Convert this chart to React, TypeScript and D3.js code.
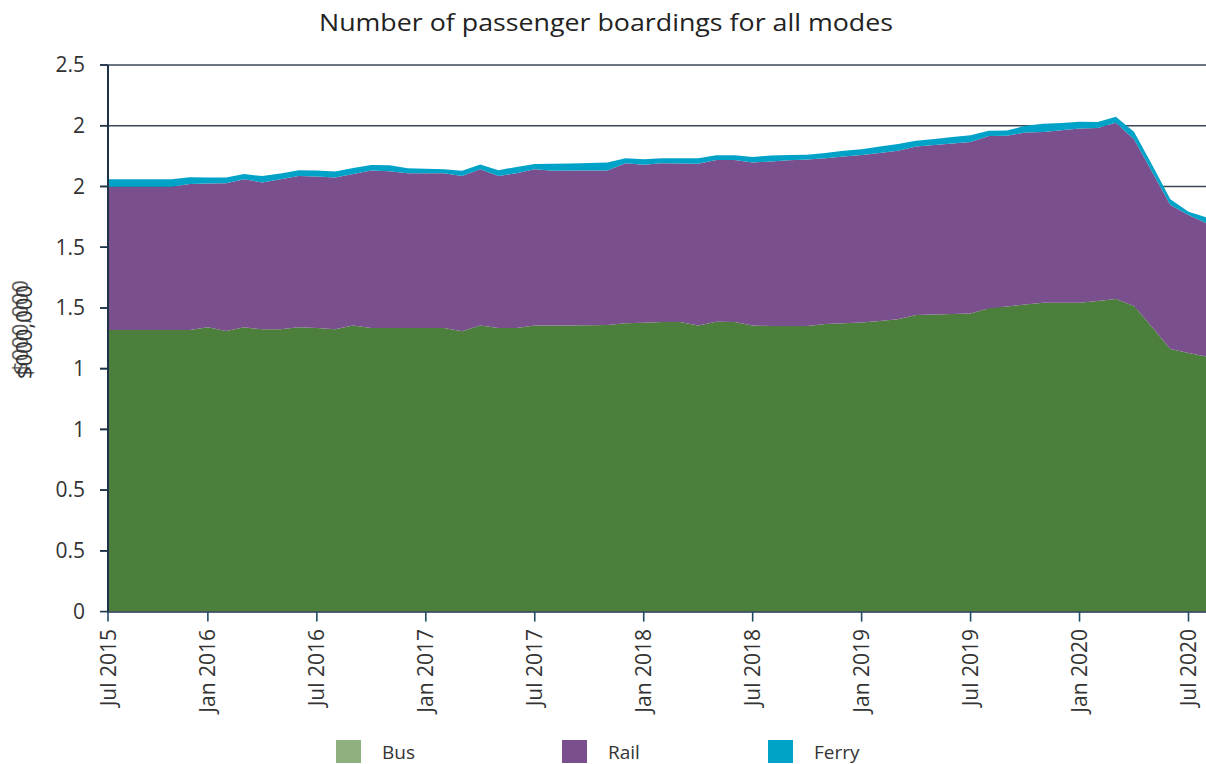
import React from "react";
import * as d3 from "d3";

// Monthly boardings (millions), Jul 2015 .. Aug 2020
const busValues = [
  1.288, 1.288, 1.288, 1.288, 1.288, 1.288, 1.300, 1.283, 1.300, 1.291,
  1.291, 1.300, 1.297, 1.291, 1.308, 1.297, 1.297, 1.297, 1.297, 1.297,
  1.282, 1.309, 1.297, 1.297, 1.308, 1.308, 1.309, 1.310, 1.311, 1.319,
  1.321, 1.325, 1.325, 1.308, 1.326, 1.325, 1.308, 1.306, 1.306, 1.306,
  1.315, 1.319, 1.322, 1.329, 1.337, 1.357, 1.359, 1.361, 1.364, 1.387,
  1.396, 1.405, 1.413, 1.413, 1.413, 1.421, 1.430, 1.398, 1.300, 1.201,
  1.183, 1.166,
];
const railValues = [
  0.655, 0.655, 0.655, 0.655, 0.655, 0.668, 0.658, 0.676, 0.677, 0.672,
  0.686, 0.692, 0.693, 0.695, 0.694, 0.720, 0.717, 0.708, 0.708, 0.708,
  0.710, 0.714, 0.695, 0.708, 0.715, 0.708, 0.708, 0.707, 0.706, 0.732,
  0.723, 0.726, 0.725, 0.740, 0.740, 0.741, 0.746, 0.753, 0.758, 0.762,
  0.759, 0.762, 0.766, 0.768, 0.771, 0.770, 0.775, 0.780, 0.784, 0.788,
  0.780, 0.786, 0.781, 0.789, 0.796, 0.791, 0.806, 0.762, 0.711, 0.659,
  0.631, 0.610,
];
const ferryValues = [
  0.034, 0.034, 0.034, 0.034, 0.034, 0.031, 0.028, 0.027, 0.024, 0.029,
  0.027, 0.027, 0.027, 0.027, 0.027, 0.026, 0.027, 0.023, 0.020, 0.018,
  0.024, 0.022, 0.027, 0.029, 0.024, 0.032, 0.033, 0.035, 0.037, 0.023,
  0.025, 0.022, 0.023, 0.026, 0.021, 0.021, 0.025, 0.027, 0.024, 0.021,
  0.024, 0.027, 0.027, 0.030, 0.031, 0.027, 0.028, 0.030, 0.031, 0.024,
  0.024, 0.031, 0.037, 0.033, 0.031, 0.027, 0.027, 0.035, 0.032, 0.026,
  0.015, 0.027,
];

const seriesKeys = ["Bus", "Rail", "Ferry"];
const seriesColors = ["#4b7f3b", "#7a4f8e", "#00a2c7"];
const legendColors = ["#8fb17f", "#7a4f8e", "#00a2c7"];

const tickMonthIndex = [0, 6, 12, 18, 24, 30, 36, 42, 48, 54, 60];
const tickLabels = [
  "Jul 2015", "Jan 2016", "Jul 2016", "Jan 2017", "Jul 2017", "Jan 2018",
  "Jul 2018", "Jan 2019", "Jul 2019", "Jan 2020", "Jul 2020",
];

const yMax = 2.5;
const yTickCount = 9; // intervals
const yTicks = d3.range(yTickCount + 1).map((i) => (yMax * i) / yTickCount);

const W = 1206;
const H = 764;
const left = 108;
const right = 1206;
const top = 65;
const bottom = 611.6;
const font = "'Open Sans', 'Liberation Sans', sans-serif";

export default function App() {
  const rows = busValues.map((b, i) => ({
    i,
    Bus: b,
    Rail: railValues[i],
    Ferry: ferryValues[i],
  }));
  const x = d3.scaleLinear().domain([0.5, 60]).range([left, 1188.5]);
  const y = d3.scaleLinear().domain([0, yMax]).range([bottom, top]);
  const stack = d3.stack<any>().keys(seriesKeys)(rows);
  const area = d3
    .area<any>()
    .x((d) => x(d.data.i))
    .y0((d) => y(d[0]))
    .y1((d) => y(d[1]));
  const fmt = (v: number) => {
    const r = Math.round(v * 2) / 2;
    return d3.format("")(r);
  };
  const axisColor = "#1e3248";
  const gridColor = "#3a4756";

  return (
    <div style={{ position: "absolute", left: 0, top: 0 }}>
      <svg width={W} height={H} style={{ display: "block", background: "#fff" }}>
        <defs>
          <clipPath id="plot">
            <rect x={left} y={0} width={right - left} height={bottom + 1} />
          </clipPath>
        </defs>
        <text
          x={606}
          y={31}
          textAnchor="middle"
          fontFamily={font}
          fontSize={24}
          textLength={574}
          lengthAdjust="spacingAndGlyphs"
          fill="#222"
        >
          Number of passenger boardings for all modes
        </text>

        {yTicks.map((t, i) => (
          <g key={i}>
            {i > 0 && (
              <line
                x1={100}
                x2={right}
                y1={y(t)}
                y2={y(t)}
                stroke={gridColor}
                strokeWidth={1.6}
              />
            )}
            <line x1={100} x2={left} y1={y(t)} y2={y(t)} stroke={axisColor} strokeWidth={1.6} />
            <text
              x={85}
              y={y(t)}
              dy="0.35em"
              textAnchor="end"
              fontFamily={font}
              fontSize={21}
              fill="#333"
            >
              {fmt(t)}
            </text>
          </g>
        ))}

        <g clipPath="url(#plot)">
          {stack.map((s, k) => (
            <path key={k} d={area(s) || ""} fill={seriesColors[k]} />
          ))}
        </g>

        <line x1={left} x2={left} y1={top} y2={bottom + 1} stroke={axisColor} strokeWidth={2} />
        <line x1={left} x2={right} y1={bottom + 0.5} y2={bottom + 0.5} stroke={axisColor} strokeWidth={1.5} />

        {tickMonthIndex.map((m, i) => {
          const xp = x(Math.max(m, 0.5));
          return (
            <g key={i}>
              <line x1={xp} x2={xp} y1={bottom} y2={bottom + 10} stroke="#1f4d63" strokeWidth={1.6} />
              <text
                transform={`translate(${xp},${629}) rotate(-90)`}
                textAnchor="end"
                dy="0.36em"
                fontFamily={font}
                fontSize={21}
                fill="#333"
              >
                {tickLabels[i]}
              </text>
            </g>
          );
        })}

        <g transform="translate(24,332) rotate(-90)">
          <text textAnchor="middle" dy="0.35em" fontFamily={font} fontSize={22} fill="#333">
            $000,000
          </text>
          <text x={5} textAnchor="middle" dy="0.2em" fontFamily={font} fontSize={22} fill="#333" opacity={0.8}>
            $000,000
          </text>
        </g>

        {seriesKeys.map((k, i) => {
          const lx = [336, 562, 768][i];
          return (
            <g key={k}>
              <rect x={lx} y={740} width={25} height={23} fill={legendColors[i]} />
              <text x={lx + 46} y={759} fontFamily={font} fontSize={19} fill="#333">
                {k}
              </text>
            </g>
          );
        })}
      </svg>
    </div>
  );
}
